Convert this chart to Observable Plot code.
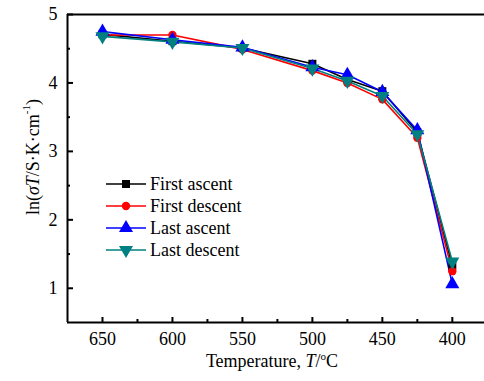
<!DOCTYPE html>
<html><head><meta charset="utf-8">
<script src="https://cdn.jsdelivr.net/npm/d3@7"></script>
<script src="https://cdn.jsdelivr.net/npm/@observablehq/plot@0.6"></script>
<style>
body{margin:0;background:#fff}
#chart svg, #chart svg text, #chart svg tspan{font-family:"Liberation Serif","Times New Roman","DejaVu Serif",serif !important;}
</style>
</head><body><div id="chart"></div>
<script>
const temperatures = [650, 600, 550, 500, 475, 450, 425, 400];
const seriesNames = ["First ascent", "First descent", "Last ascent", "Last descent"];
const firstAscent  = [4.71, 4.61, 4.51, 4.28, 4.05, 3.88, 3.28, 1.33];
const firstDescent = [4.70, 4.70, 4.49, 4.18, 4.00, 3.76, 3.20, 1.25];
const lastAscent   = [4.75, 4.63, 4.52, 4.23, 4.12, 3.87, 3.31, 1.06];
const lastDescent  = [4.68, 4.60, 4.51, 4.21, 4.03, 3.81, 3.25, 1.39];
const xTicks = [650, 600, 550, 500, 450, 400];
const xMinorTicks = [625, 575, 525, 475, 425];
const yTicks = [1, 2, 3, 4, 5];
const yMinorTicks = [1.5, 2.5, 3.5, 4.5];

const colors = ["#000000", "#ff0000", "#0000ff", "#008080"];
const FONT = "Liberation Serif, Times New Roman, DejaVu Serif, serif";

function tri(down) {
  return {
    draw(ctx, size) {
      const a = Math.sqrt(4 * size / Math.sqrt(3));
      const h = Math.sqrt(3) / 2 * a;
      const s = down ? 1 : -1;
      ctx.moveTo(0, s * 2 * h / 3);
      ctx.lineTo(-a / 2, -s * h / 3);
      ctx.lineTo(a / 2, -s * h / 3);
      ctx.closePath();
    }
  };
}
const symbols = ["square", "circle", tri(false), tri(true)];
const radii = [4.5, 4.2, 5.2, 5.2];

const seriesValues = [firstAscent, firstDescent, lastAscent, lastDescent];
const data = seriesNames.map((name, i) => temperatures.map((t, j) => ({series: name, t, v: seriesValues[i][j]})));

const W = 484, H = 381, mt = 14, mb = 59, ml = 67, mr = 0;
const pw = W - ml - mr, ph = H - mt - mb;
const xDomain = [675, 377], yDomain = [0.5, 5];

const marks = [];
data.forEach((d, i) => {
  marks.push(Plot.line(d, {x: "t", y: "v", stroke: colors[i], strokeWidth: 1.6}));
});
data.forEach((d, i) => {
  marks.push(Plot.dot(d, {x: "t", y: "v", fill: colors[i], stroke: "none", symbol: symbols[i], r: radii[i]}));
});

const chart = Plot.plot({
  width: W, height: H,
  marginTop: mt, marginBottom: mb, marginLeft: ml, marginRight: mr,
  x: {domain: xDomain},
  y: {domain: yDomain},
  marks: [
    Plot.tickX(xTicks, {x: d => d, insetTop: ph - 5, stroke: "#000", strokeWidth: 2}),
    Plot.tickX(xMinorTicks, {x: d => d, insetTop: ph - 3, stroke: "#000", strokeWidth: 2}),
    Plot.tickY(yTicks, {y: d => d, insetRight: pw - 6, stroke: "#000", strokeWidth: 2}),
    Plot.tickY(yMinorTicks, {y: d => d, insetRight: pw - 3, stroke: "#000", strokeWidth: 2}),
    Plot.axisX(xTicks, {tickSize: 0, tickPadding: 10, label: null, tickFormat: d3.format("d"), fill: "#000"}),
    Plot.axisY(yTicks, {tickSize: 0, tickPadding: 10, label: null, tickFormat: d3.format("d"), fill: "#000"}),
    Plot.ruleX([xDomain[0]], {stroke: "#000", strokeWidth: 2}),
    Plot.ruleY([yDomain[0]], {stroke: "#000", strokeWidth: 2}),
    Plot.ruleY([yDomain[1]], {stroke: "#000", strokeWidth: 2}),
    ...marks
  ]
});
chart.style.fontSize = "18px";
chart.style.color = "#000";
chart.style.background = "#fff";
document.getElementById("chart").appendChild(chart);

const svg = d3.select(chart);
svg.selectAll("text").attr("font-family", FONT).style("font-size", "18px");

// y label
const yl = svg.append("text")
  .attr("transform", "translate(33,157) rotate(-90)")
  .attr("text-anchor", "middle")
  .attr("dominant-baseline", "central")
  .attr("font-family", FONT).style("font-size", "18px").attr("fill", "#000");
yl.append("tspan").text("ln(");
yl.append("tspan").attr("font-style", "italic").text("σT");
yl.append("tspan").text("/S·K·cm");
yl.append("tspan").style("font-size", "11px").attr("dy", -7).text("-1");
yl.append("tspan").attr("dy", 7).text(")");

// x label
const xl = svg.append("text")
  .attr("x", 272).attr("y", 367)
  .attr("text-anchor", "middle")
  .attr("font-family", FONT).style("font-size", "18px").attr("fill", "#000");
xl.append("tspan").text("Temperature, ");
xl.append("tspan").attr("font-style", "italic").text("T");
xl.append("tspan").text("/");
xl.append("tspan").style("font-size", "11px").attr("dy", -7).text("o");
xl.append("tspan").attr("dy", 7).text("C");

// legend
const lg = svg.append("g");
seriesNames.forEach((name, i) => {
  const y = 184 + i * 22;
  lg.append("line").attr("x1", 106).attr("x2", 146).attr("y1", y).attr("y2", y)
    .attr("stroke", colors[i]).attr("stroke-width", 1.6);
  const sym = typeof symbols[i] === "string"
    ? (symbols[i] === "square" ? d3.symbolSquare : d3.symbolCircle) : symbols[i];
  lg.append("path").attr("transform", `translate(126,${y})`)
    .attr("d", d3.symbol(sym, radii[i] * radii[i] * Math.PI)())
    .attr("fill", colors[i]);
  lg.append("text").attr("x", 150).attr("y", y)
    .attr("text-anchor", "start").attr("dominant-baseline", "central")
    .attr("font-family", FONT).style("font-size", "18px").attr("fill", "#000").text(name);
});
</script>
</body></html>
